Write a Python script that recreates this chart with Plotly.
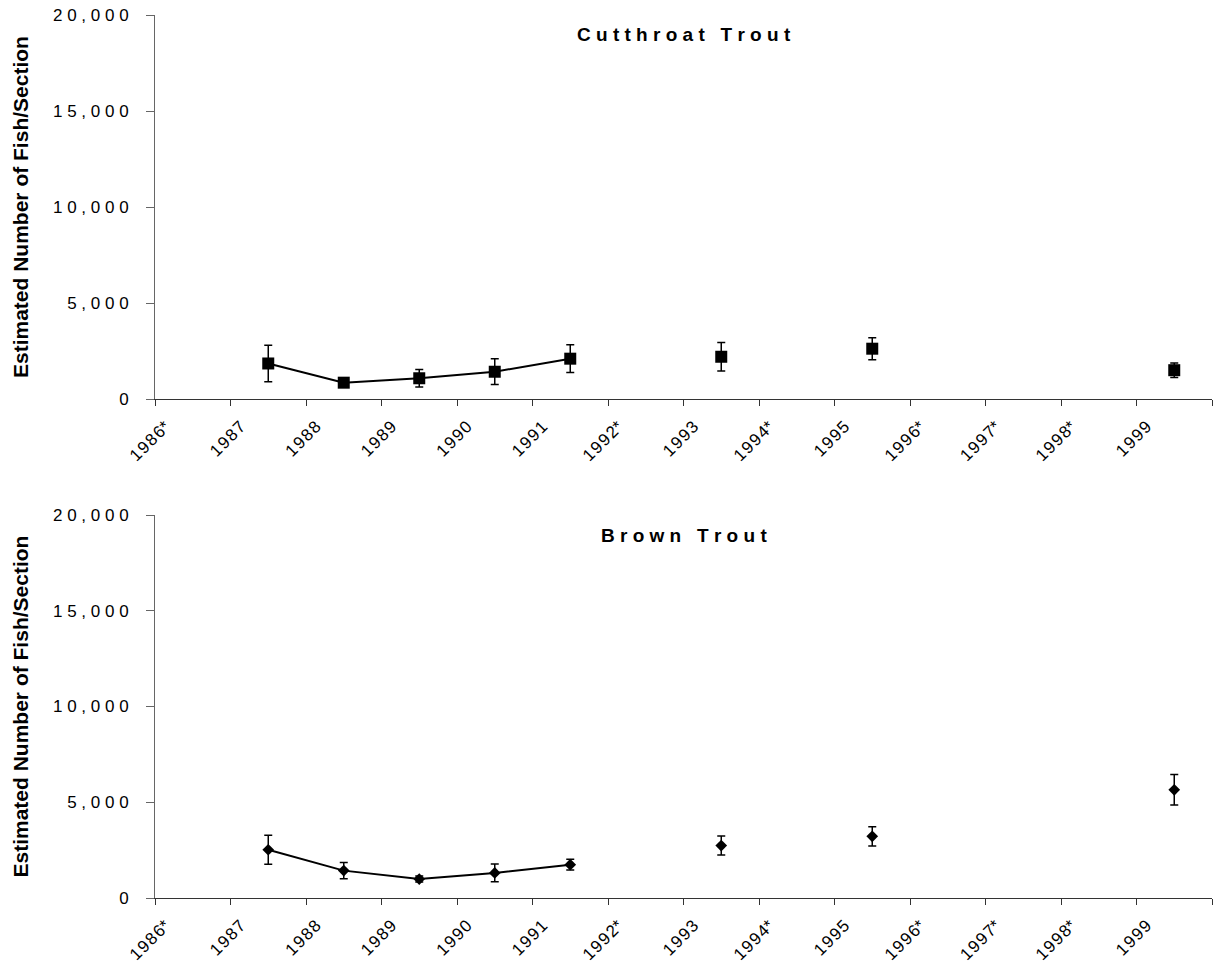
import plotly.graph_objects as go

# Sampling years (asterisk = no estimate that year)
years = ["1986*", "1987", "1988", "1989", "1990", "1991", "1992*",
         "1993", "1994*", "1995", "1996*", "1997*", "1998*", "1999"]

# Cutthroat trout population estimates and 95% bounds (half-width)
cutthroat_est = [None, 1850, 850, 1080, 1420, 2100, None,
                 2200, None, 2620, None, None, None, 1500]
cutthroat_err = [None, 950, 120, 460, 670, 720, None,
                 740, None, 570, None, None, None, 380]

# Brown trout population estimates and 95% bounds (half-width)
brown_est = [None, 2520, 1430, 990, 1310, 1740, None,
             2740, None, 3220, None, None, None, 5650]
brown_err = [None, 760, 430, 160, 460, 280, None,
             500, None, 500, None, None, None, 800]

y_ticks = [0, 5000, 10000, 15000, 20000]

FONT = "Liberation Sans, Arial, sans-serif"
NBSP = "\u00a0"
HAIR = "\u200a"


def spaced(s, gap=NBSP):
    """Letter-spaced rendering of a label."""
    return gap.join(s)


x_pos = [i + 0.5 for i in range(len(years))]

fig = go.Figure()

series = [
    (cutthroat_est, cutthroat_err, "square", 12, "x", "y"),
    (brown_est, brown_err, "diamond", 9, "x2", "y2"),
]
for est, err, sym, size, xa, ya in series:
    fig.add_trace(go.Scatter(
        x=x_pos, y=est, xaxis=xa, yaxis=ya,
        mode="lines+markers",
        line=dict(color="black", width=2),
        marker=dict(symbol=sym, size=size, color="black"),
        error_y=dict(type="data", array=err, visible=True,
                     color="black", thickness=1.5, width=4),
        connectgaps=False,
        showlegend=False,
    ))

x_dom = [155 / 1219, 1212 / 1219]
top_dom = [1 - 399 / 966, 1 - 15 / 966]
bot_dom = [1 - 898 / 966, 1 - 515 / 966]

xaxis_common = dict(
    range=[0, len(years)],
    tickmode="array",
    tickvals=list(range(len(years) + 1)),
    ticktext=[spaced(y.rstrip("*"), HAIR) + ("*" if y.endswith("*") else "")
              for y in years] + [""],
    tickangle=-45,
    ticks="outside", ticklen=6, tickcolor="#333",
    showline=True, linecolor="#333", linewidth=1,
    showgrid=False, zeroline=False,
    tickfont=dict(family=FONT, size=17, color="black"),
    domain=x_dom, automargin=False,
    ticklabelshift=10, ticklabelstandoff=4,
)
yaxis_common = dict(
    range=[0, 20000],
    tickmode="array",
    tickvals=y_ticks,
    ticktext=[spaced(f"{v:,}") for v in y_ticks],
    ticks="outside", ticklen=8, tickcolor="#666",
    showline=True, linecolor="#666", linewidth=1,
    showgrid=False, zeroline=False,
    tickfont=dict(family=FONT, size=17, color="black"),
    automargin=False,
    ticklabelstandoff=14,
)

fig.update_layout(
    width=1219, height=966,
    margin=dict(l=0, r=0, t=0, b=0),
    paper_bgcolor="white", plot_bgcolor="white",
    xaxis=dict(**xaxis_common, anchor="y"),
    yaxis=dict(**yaxis_common, domain=top_dom, anchor="x"),
    xaxis2=dict(**xaxis_common, anchor="y2"),
    yaxis2=dict(**yaxis_common, domain=bot_dom, anchor="x2"),
)

ytitle = "Estimated Number of Fish/Section"
annotations = []
for dom, title in [(top_dom, "Cutthroat Trout"), (bot_dom, "Brown Trout")]:
    annotations.append(dict(
        text=f"<b>{ytitle}</b>", textangle=-90,
        x=20 / 1219, y=(dom[0] + dom[1]) / 2,
        xref="paper", yref="paper", showarrow=False,
        xanchor="center", yanchor="middle",
        font=dict(family=FONT, size=21, color="black"),
    ))
    words = title.split(" ")
    label = (NBSP * 3).join(spaced(w) for w in words)
    annotations.append(dict(
        text=f"<b>{label}</b>",
        x=(x_dom[0] + x_dom[1]) / 2, y=dom[1] - 20 / 966,
        xref="paper", yref="paper", showarrow=False,
        xanchor="center", yanchor="middle",
        font=dict(family=FONT, size=19, color="black"),
    ))
fig.update_layout(annotations=annotations)

fig.write_html("out.html")
